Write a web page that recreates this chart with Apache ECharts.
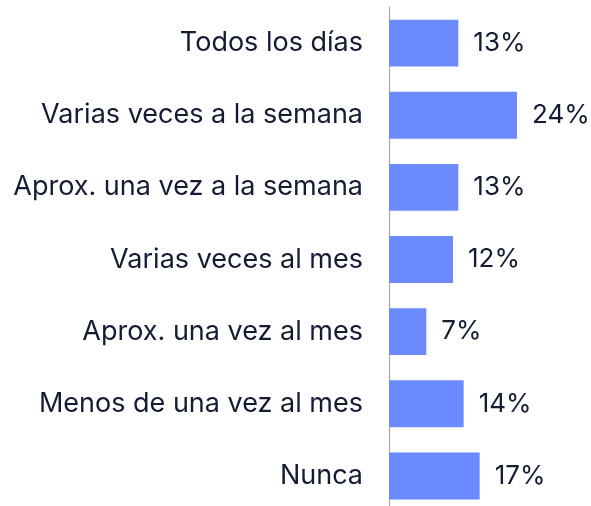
<!DOCTYPE html>
<html>
<head>
<meta charset="utf-8">
<script src="https://cdn.jsdelivr.net/npm/echarts@6/dist/echarts.min.js"></script>
<style>
  html, body { margin: 0; padding: 0; background: #fff; }
  #chart { width: 591px; height: 506px; }
</style>
</head>
<body>
<div id="chart"></div>
<script>
const categories = [
  'Todos los días',
  'Varias veces a la semana',
  'Aprox. una vez a la semana',
  'Varias veces al mes',
  'Aprox. una vez al mes',
  'Menos de una vez al mes',
  'Nunca'
];
const values = [13, 24, 13, 12, 7, 14, 17];

const chart = echarts.init(document.getElementById('chart'));
chart.setOption({
  animation: false,
  textStyle: { fontFamily: 'Inter' },
  grid: {
    left: 389, right: 42, top: 7, height: 505,
    containLabel: false,
    outerBoundsMode: 'none'
  },
  xAxis: {
    type: 'value',
    min: 0,
    max: 30,
    show: false
  },
  yAxis: {
    type: 'category',
    inverse: true,
    data: categories,
    axisLine: { show: true, lineStyle: { color: '#a0a0a0', width: 1 } },
    axisTick: { show: false },
    axisLabel: { color: '#131c33', fontSize: 27, margin: 26, fontFamily: 'Inter' }
  },
  series: [{
    type: 'bar',
    data: values,
    barCategoryGap: '35%',
    itemStyle: { color: '#6b8afd' },
    label: {
      show: true,
      position: 'right',
      distance: 15,
      formatter: '{c}%',
      color: '#131c33',
      fontSize: 26,
      fontFamily: 'Inter'
    }
  }]
});
</script>
</body>
</html>
